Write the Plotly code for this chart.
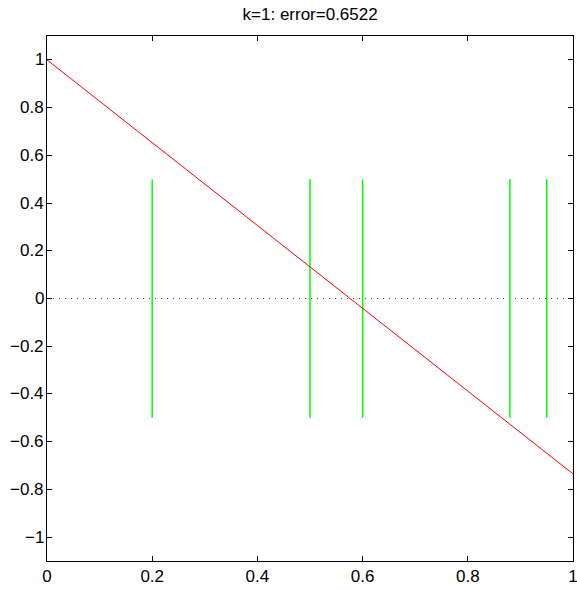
import plotly.graph_objects as go

# Sample locations marked by vertical bars
sample_x = [0.2, 0.5, 0.6, 0.88, 0.95]
bar_low, bar_high = -0.5, 0.5

# Fitted decision line endpoints
line_x = [0.0, 1.0]
line_y = [1.0, -0.735]

title_text = "k=1: error=0.6522"
x_ticks = [0, 0.2, 0.4, 0.6, 0.8, 1]
y_ticks = [-1, -0.8, -0.6, -0.4, -0.2, 0, 0.2, 0.4, 0.6, 0.8, 1]

bars_x, bars_y = [], []
for sx in sample_x:
    bars_x += [sx, sx, None]
    bars_y += [bar_low, bar_high, None]

fig = go.Figure()
fig.add_trace(go.Scatter(x=[0, 1], y=[0, 0], mode="lines",
                         line=dict(color="#444444", width=1, dash="1px,5px"),
                         hoverinfo="skip"))
fig.add_trace(go.Scatter(x=bars_x, y=bars_y, mode="lines",
                         line=dict(color="#00ff00", width=1.5)))
fig.add_trace(go.Scatter(x=line_x, y=line_y, mode="lines",
                         line=dict(color="#ff0000", width=1)))

font = dict(family="Liberation Sans, Arial", size=17, color="black")
axis_common = dict(showgrid=False, zeroline=False, showline=True, linecolor="black",
                   linewidth=1, mirror="ticks", ticks="inside", ticklen=5,
                   tickcolor="black", tickfont=font, automargin=False)

# y tick labels placed tight against the left axis line
y_labels = [
    dict(xref="paper", x=0, xanchor="right", xshift=-1, yref="y", y=v,
         yanchor="middle", text=f"{v:g}".replace("-", "\u2212"), showarrow=False,
         font=font)
    for v in y_ticks
]

fig.update_layout(
    width=577, height=590,
    margin=dict(l=47, r=4, t=36, b=29),
    paper_bgcolor="white", plot_bgcolor="white",
    showlegend=False,
    title=dict(text=title_text, x=0.5375, xanchor="center", y=0.987, yanchor="top",
               font=font),
    xaxis=dict(range=[0, 1], tickvals=x_ticks, ticktext=[f"{v:g}" for v in x_ticks],
               ticklabeloverflow="allow", **axis_common),
    yaxis=dict(range=[-1.1, 1.1], tickvals=y_ticks, showticklabels=False, **axis_common),
    annotations=y_labels,
)

fig.write_html("out.html")
